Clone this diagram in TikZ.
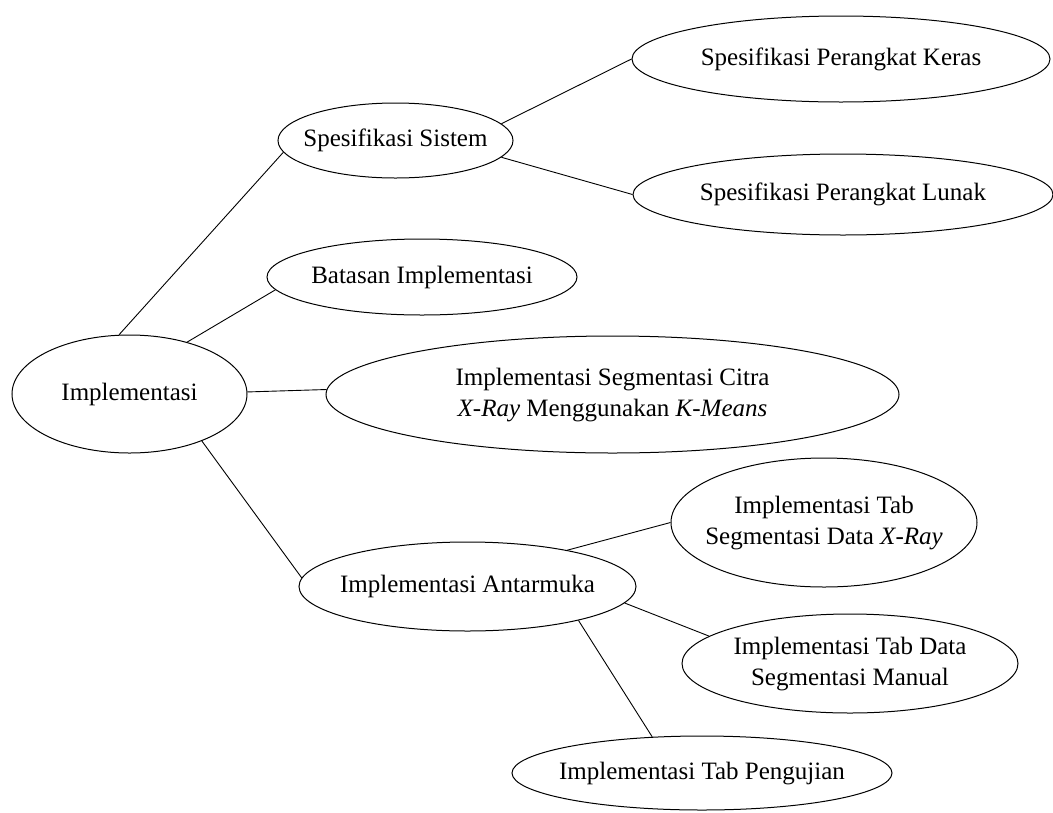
\documentclass[tikz,border=0pt]{standalone}
\usepackage{fontspec}
\setmainfont{Liberation Serif}
\usetikzlibrary{shapes.geometric}
\newcommand{\ctext}[1]{\makebox[0pt]{\begin{tabular}{@{}c@{}}#1\end{tabular}}}
\tikzset{
  topic/.style={ellipse, draw, line width=1pt, inner sep=0pt,
    font=\fontsize{25}{31}\selectfont},
  link/.style={line width=0.9pt}
}
\begin{document}
\begin{tikzpicture}[x=1pt,y=-1pt]
\useasboundingbox (0,0) rectangle (1053,812);
\node[topic, minimum width=235pt, minimum height=118pt] (A) at (129.5,394) {\ctext{Implementasi}};
\node[topic, minimum width=235pt, minimum height=75pt] (B) at (395.5,140.5) {\ctext{Spesifikasi Sistem}};
\node[topic, minimum width=418pt, minimum height=86pt] (C) at (841,59) {\ctext{Spesifikasi Perangkat Keras}};
\node[topic, minimum width=420pt, minimum height=81pt] (D) at (843,194.5) {\ctext{Spesifikasi Perangkat Lunak}};
\node[topic, minimum width=310pt, minimum height=76pt] (E) at (422,277) {\ctext{Batasan Implementasi}};
\node[topic, minimum width=573pt, minimum height=117pt] (F) at (612.5,394.5) {\ctext{Implementasi Segmentasi Citra\\ \textit{X-Ray} Menggunakan \textit{K-Means}}};
\node[topic, minimum width=306pt, minimum height=129pt] (G) at (824,522.5) {\ctext{Implementasi Tab\\ Segmentasi Data \textit{X-Ray}}};
\node[topic, minimum width=337pt, minimum height=89pt] (H) at (467.5,586.5) {\ctext{Implementasi Antarmuka}};
\node[topic, minimum width=336pt, minimum height=99pt] (I) at (850,663.5) {\ctext{Implementasi Tab Data\\ Segmentasi Manual}};
\node[topic, minimum width=380pt, minimum height=74pt] (J) at (702,773) {\ctext{Implementasi Tab Pengujian}};
\draw[link] (A.100.1) -- (B.186);
\draw[link] (A.42) -- (E.185.4);
\draw[link] (A.1) -- (F.179.5);
\draw[link] (A.-33.1) -- (H.177.1);
\draw[link] (B.9.2) -- (C.180);
\draw[link] (B.-9.2) -- (D.180);
\draw[link] (H.20.1) -- (G.180);
\draw[link] (H.-6.4) -- (I.169.5);
\draw[link] (H.-17.8) -- (J.144.2);
\end{tikzpicture}
\end{document}
